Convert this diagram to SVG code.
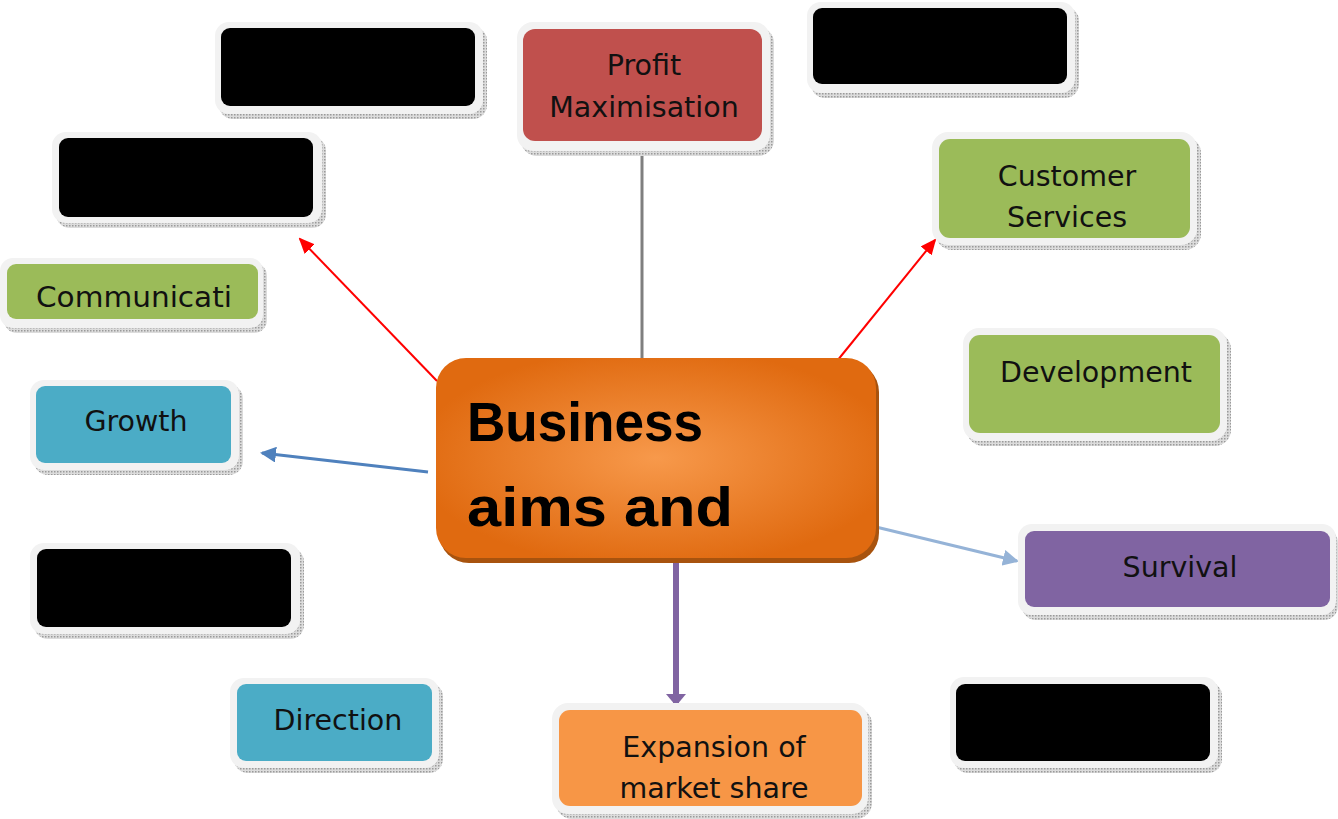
<svg xmlns="http://www.w3.org/2000/svg" width="1338" height="819" viewBox="0 0 1338 819">
<defs>
<style>
.frame{fill:#f2f2f2}
.shadow{fill:url(#dots)}
.lbl{font-family:"DejaVu Sans","Liberation Sans",sans-serif;font-size:28.5px;fill:#111;text-anchor:middle}
.big{font-family:"Liberation Sans",Arial,sans-serif;font-size:56px;font-weight:bold;fill:#000}
.red{stroke:#ff0000;stroke-width:2;fill:none}
</style>
<pattern id="dots" width="3" height="3" patternUnits="userSpaceOnUse">
<rect width="3" height="3" fill="#dcdcdc"/>
<rect width="1.5" height="1.5" fill="#9a9a9a"/>
</pattern>
<radialGradient id="og" cx="0.5" cy="0.5" r="0.55">
<stop offset="0" stop-color="#f7994b"/>
<stop offset="1" stop-color="#e06a10"/>
</radialGradient>
<marker id="ahRed" markerWidth="16" markerHeight="14" refX="14" refY="7" orient="auto" markerUnits="userSpaceOnUse" viewBox="0 0 16 14">
<path d="M0,0 L16,7 L0,14 z" fill="#ff0000"/>
</marker>
<marker id="ahBlue" markerWidth="16" markerHeight="16" refX="14" refY="8" orient="auto" markerUnits="userSpaceOnUse" viewBox="0 0 16 16">
<path d="M0,0 L16,8 L0,16 z" fill="#4f81bd"/>
</marker>
<marker id="ahLight" markerWidth="16" markerHeight="16" refX="14" refY="8" orient="auto" markerUnits="userSpaceOnUse" viewBox="0 0 16 16">
<path d="M0,0 L16,8 L0,16 z" fill="#95b3d7"/>
</marker>
<marker id="ahPurple" markerWidth="12" markerHeight="20" refX="10" refY="10" orient="auto" markerUnits="userSpaceOnUse" viewBox="0 0 12 20">
<path d="M0,0 L12,10 L0,20 z" fill="#8064a2"/>
</marker>
</defs>
<rect width="1338" height="819" fill="#ffffff"/>

<g id="connectors">
<line x1="642" y1="153" x2="642" y2="360" stroke="#7f7f7f" stroke-width="3"/>
<line class="red" x1="437" y1="381" x2="300" y2="239" marker-end="url(#ahRed)"/>
<line class="red" x1="833" y1="366" x2="935" y2="240" marker-end="url(#ahRed)"/>
<line x1="428" y1="472" x2="262" y2="453" stroke="#4f81bd" stroke-width="3" marker-end="url(#ahBlue)"/>
<line x1="876" y1="527" x2="1017" y2="561" stroke="#95b3d7" stroke-width="3" marker-end="url(#ahLight)"/>
<line x1="676" y1="560" x2="676" y2="704" stroke="#8064a2" stroke-width="6" marker-end="url(#ahPurple)"/>
</g>

<g id="n-black-topleft">
<rect class="shadow" x="219" y="27" width="268" height="92" rx="14"/>
<rect class="frame" x="215" y="22" width="268" height="92" rx="14"/>
<rect x="221" y="28" width="254" height="78" rx="9" fill="#000"/>
</g>

<g id="n-profit">
<rect class="shadow" x="521" y="27" width="253" height="129" rx="16"/>
<rect class="frame" x="517" y="22" width="253" height="129" rx="16"/>
<rect x="523" y="29" width="239" height="112" rx="12" fill="#c0504d"/>
<text class="lbl" x="644" y="75">Profit</text>
<text class="lbl" x="644" y="117">Maximisation</text>
</g>

<g id="n-black-topright">
<rect class="shadow" x="811" y="7" width="268" height="91" rx="14"/>
<rect class="frame" x="807" y="2" width="268" height="91" rx="14"/>
<rect x="813" y="8" width="254" height="76" rx="9" fill="#000"/>
</g>

<g id="n-black-left2">
<rect class="shadow" x="56" y="137" width="270" height="91" rx="14"/>
<rect class="frame" x="52" y="132" width="270" height="91" rx="14"/>
<rect x="59" y="138" width="254" height="79" rx="9" fill="#000"/>
</g>

<g id="n-customer">
<rect class="shadow" x="936" y="137" width="265" height="113" rx="16"/>
<rect class="frame" x="932" y="132" width="265" height="113" rx="16"/>
<rect x="939" y="139" width="251" height="99" rx="11" fill="#9bbb59"/>
<text class="lbl" x="1067" y="186">Customer</text>
<text class="lbl" x="1067" y="227">Services</text>
</g>

<g id="n-communication">
<rect class="shadow" x="4" y="263" width="263" height="70" rx="13"/>
<rect class="frame" x="0" y="258" width="263" height="70" rx="13"/>
<rect x="7" y="264" width="251" height="55" rx="9" fill="#9bbb59"/>
<text class="lbl" x="134" y="307" textLength="196" lengthAdjust="spacingAndGlyphs">Communicati</text>
</g>

<g id="n-development">
<rect class="shadow" x="967" y="333" width="264" height="113" rx="16"/>
<rect class="frame" x="963" y="328" width="264" height="113" rx="16"/>
<rect x="969" y="335" width="251" height="98" rx="11" fill="#9bbb59"/>
<text class="lbl" x="1096" y="382">Development</text>
</g>

<g id="n-growth">
<rect class="shadow" x="34" y="385" width="209" height="90" rx="14"/>
<rect class="frame" x="30" y="380" width="209" height="90" rx="14"/>
<rect x="36" y="386" width="195" height="77" rx="9" fill="#4bacc6"/>
<text class="lbl" x="136" y="431">Growth</text>
</g>

<g id="n-center">
<rect x="439" y="362" width="440" height="201" rx="30" fill="#a8530e"/>
<rect x="436" y="358" width="440" height="200" rx="30" fill="url(#og)"/>
<text class="big" x="467" y="441" textLength="236" lengthAdjust="spacingAndGlyphs">Business</text>
<text class="big" x="467" y="526" textLength="266" lengthAdjust="spacingAndGlyphs">aims and</text>
</g>

<g id="n-black-left3">
<rect class="shadow" x="34" y="548" width="270" height="91" rx="14"/>
<rect class="frame" x="30" y="543" width="270" height="91" rx="14"/>
<rect x="37" y="549" width="254" height="78" rx="9" fill="#000"/>
</g>

<g id="n-survival">
<rect class="shadow" x="1022" y="529" width="316" height="91" rx="14"/>
<rect class="frame" x="1018" y="524" width="318" height="91" rx="14"/>
<rect x="1025" y="531" width="305" height="76" rx="9" fill="#8064a2"/>
<text class="lbl" x="1180" y="577">Survival</text>
</g>

<g id="n-direction">
<rect class="shadow" x="234" y="683" width="209" height="90" rx="14"/>
<rect class="frame" x="230" y="678" width="209" height="90" rx="14"/>
<rect x="237" y="684" width="195" height="77" rx="9" fill="#4bacc6"/>
<text class="lbl" x="338" y="730">Direction</text>
</g>

<g id="n-expansion">
<rect class="shadow" x="556" y="708" width="316" height="111" rx="16"/>
<rect class="frame" x="552" y="703" width="316" height="111" rx="16"/>
<rect x="559" y="710" width="303" height="96" rx="11" fill="#f79646"/>
<text class="lbl" x="714" y="757">Expansion of</text>
<text class="lbl" x="714" y="798">market share</text>
</g>

<g id="n-black-bottomright">
<rect class="shadow" x="954" y="682" width="268" height="91" rx="14"/>
<rect class="frame" x="950" y="677" width="268" height="91" rx="14"/>
<rect x="956" y="684" width="254" height="77" rx="9" fill="#000"/>
</g>
</svg>
